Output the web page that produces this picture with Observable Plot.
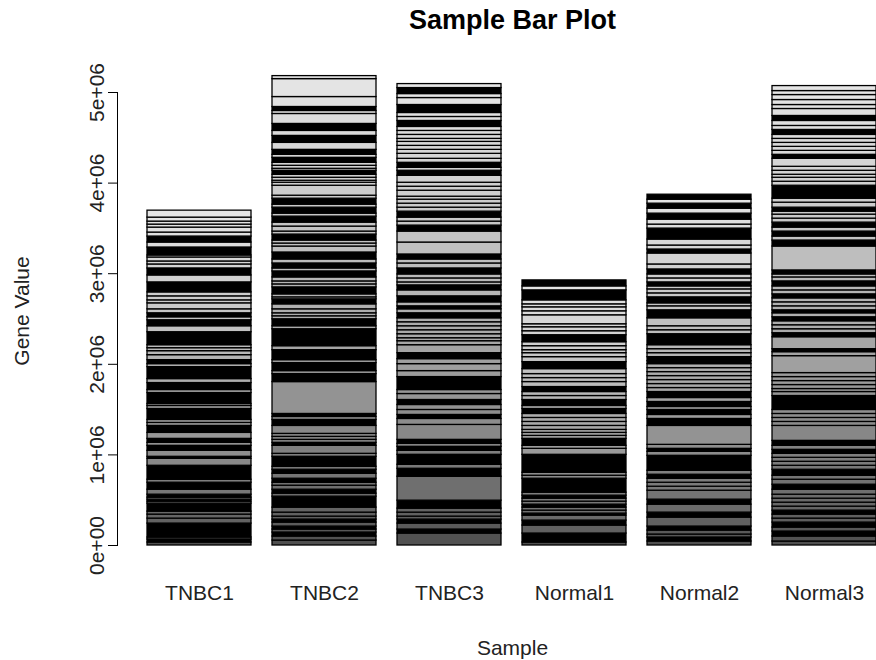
<!DOCTYPE html>
<html>
<head>
<meta charset="utf-8">
<script src="https://cdn.jsdelivr.net/npm/d3@7"></script>
<script src="https://cdn.jsdelivr.net/npm/@observablehq/plot@0.6"></script>
<style>
  html, body { margin: 0; padding: 0; background: #fff; overflow: hidden; }
  svg { overflow: hidden; }
</style>
</head>
<body>
<div id="chart"></div>
<script>
// Sample names (x categories)
const samples = ["TNBC1", "TNBC2", "TNBC3", "Normal1", "Normal2", "Normal3"];

// Stacked gene values per sample, bottom to top, in thousands.
// A plain number is one gene; [value, n] is a run of n tiny genes read as one dense block.
const tnbc1 = [33, [33,4], 22, [154,20], 55, 44, 33, [88,10], 22, [22,3], 22, [33,4], 55, [77,9], 33, [154,18], 77, [22,3], 66, [55,6], 33, [44,5], 66, [77,9], 33, 33, [121,14], 33, 22, [121,13], 33, [77,8], 44, [132,15],
  33, [44,5], 55, 44, 33, 33, [143,16], 66, [66,7], 33, [44,5], 44, 66, 33, 44, 44, [110,12], 77, [77,8], 44, 33, 44, 22, [88,10], 55, [66,7], 44, 55, 33, 33, 44, 77];
const tnbc2 = [55, 44, [44,5], 33, [33,4], 44, [33,4], 33, 44, 55, [121,14], 33, [44,5], 44, 33, [44,5], 55, [44,5], 33, [110,12], 33, 88, [33,4], 33, 33, 33, 88, [66,7], 33, [33,4],
  352,
  [88,10], 33, [88,10], 33, [110,12], 44, [187,20], 33, [77,8], 33, 33, 44, 55,
  [55,6], 22, 33, [77,8], 33, 33, 44, [66,7], 33, [55,6], 44, [77,8], 66, 33, 33, [66,7], 33, 55, 44, [66,7], 33, [66,7], 33, [66,7], 33, 110, 33, 22, 33, 33, [44,5], 22, 33, 33, [55,6], 33, [55,6], 77, [77,8], 55, [77,8], 110, 33, [44,5], 110, 198, 33];
const tnbc3 = [132, [44,5], 66, [44,5], 33, 44, 44, [88,10], 264, [88,10], 44, [110,12], 44, [44,5], 33, [44,5], 165, 66, [44,5], 55, 55, [55,6], 66, 44, [143,16], 66, 77, 55, [66,7], 88, 44, 33, 44, 44, 44, 44, 44, [55,6], 44, [33,4],
  44, [66,7], 66, [55,6], 33, 44, 44, [66,7], 55, 44, [55,6], 132, 121, [66,7], 44, 44, [66,7], 44, 44, 44, 33, 66, 44, 44, 77, [55,6], 33, [55,6], 44, 55, 44, 44, 44, 33, 44, 44, 44, [66,7], 44, 44, [88,10], 77, 44, [66,7], 44];
const normal1 = [33, [99,11], 88, [55,6], 55, [22,3], 33, 33, [33,4], 33, 33, [33,4], 33, [154,16], 33, 33, [198,20], 66, 33, [77,8], 33, 33, 33, 44, 44, 44, 44, [55,6], 33,
  [66,7], 44, 44, [55,6], 55, 44, 44, 55, [77,8], 55, 44, 33, 44, 44, [77,8], 44, 44, 33, 99, 44, 44, 33, 44, [110,12], 44, [66,7]];
const normal2 = [44, [44,5], 33, 44, [44,5], 99, [55,6], 88, [55,6], 99, 44, 44, 44, [44,5], 44, [165,18], 44, [33,4], 44, 209, [77,8], 44, [55,6], 33, [55,6], 44, [66,7], 44, 44, 44, 44, 44, 44, 44, [33,4],
  [44,5], 44, 44, 44, [121,13], 44, 44, 88, [88,10], 44, 33, [66,7], 44, 44, 33, [44,5], 44, 44, [55,6], 55, 121, [44,5], 44, 66, [121,13], 44, 55, [66,7], 55, [55,6], 44, [55,6]];
const normal3 = [44, 55, [55,6], 44, [55,6], 44, 44, [44,5], 44, 44, 44, 44, 55, [55,6], 55, 44, [66,7], 44, 44, 44, 44, [44,5], 44, [55,6], 165, 44, 44, 44, 44, [154,16], 44, 33, 44, 44, 44, 44, 187, 44, [33,4], 132, [44,5], 44, 44, 44, [44,5], 44, [33,4], 44,
  44, 44, [44,5], 44, 44, [55,6], 44, 33, [44,5], 264, [66,7], 44, [55,6], 44, [55,6], 44, 44, 33, [44,5], 55, 44, [143,15], 44, 44, 33, 44, 44, 88, [44,5], 44, 44, 44, 44, 44, [55,6], 44, 55, [55,6], 77, 44, 55, 55, 44, 55];

// Axis ticks and labels
const yTicks = [0, 1e6, 2e6, 3e6, 4e6, 5e6];
const yTickLabels = ["0e+00", "1e+06", "2e+06", "3e+06", "4e+06", "5e+06"];
const titleText = "Sample Bar Plot";
const xTitle = "Sample";
const yTitle = "Gene Value";

// Build the long table for the stacked bars
const series = [tnbc1, tnbc2, tnbc3, normal1, normal2, normal3];
const table = [];
samples.forEach((s, i) => {
  const segs = series[i].map(e => Array.isArray(e)
    ? {value: e[0] * 1000, genes: e[1]}
    : {value: e * 1000, genes: 1});
  const total = d3.sum(segs, d => d.value);
  let cum = 0;
  segs.forEach(d => {
    table.push({sample: s, value: d.value, genes: d.genes, frac: (cum + d.value / 2) / total});
    cum += d.value;
  });
});

// R's gray.colors(): gray 0.3 -> 0.9 with gamma 2.2
const grayRamp = d3.interpolateRgb.gamma(2.2)("rgb(77,77,77)", "rgb(230,230,230)");

const font = "'Liberation Sans', Arial, Helvetica, sans-serif";

const chart = Plot.plot({
  width: 876,
  height: 660,
  marginLeft: 117,
  marginRight: 0,
  marginTop: 92,
  marginBottom: 115,
  style: {fontFamily: font, fontSize: "21px", background: "white", overflow: "hidden", color: "black"},
  x: {type: "band", domain: samples, range: [146, 877.5], paddingInner: 1 / 6, paddingOuter: 0, axis: null},
  y: {domain: [0, 5e6], axis: null},
  marks: [
    Plot.barY(table, {
      x: "sample",
      y: "value",
      fill: d => d.genes > 1 ? "black" : grayRamp(d.frac),
      stroke: "black",
      strokeWidth: 1.3
    }),
    Plot.frame({anchor: "left", stroke: "black"}),
    Plot.axisY({ticks: yTicks, tickSize: 9, tickFormat: () => "", label: null, stroke: "black"}),
    Plot.text(yTicks, {
      y: d => d,
      text: (d, i) => yTickLabels[i],
      frameAnchor: "left",
      dx: -20,
      rotate: -90,
      textAnchor: "middle",
      lineAnchor: "middle",
      fill: "#222"
    }),
    Plot.axisX({tickSize: 0, tickPadding: 40, label: null, fill: "#222"}),
    Plot.text([titleText], {text: d => d, frameAnchor: "top", dx: 15.5, dy: -72, textAnchor: "middle", lineAnchor: "middle", fontWeight: "bold", fontSize: 27, fill: "black"}),
    Plot.text([xTitle], {text: d => d, frameAnchor: "bottom", dx: 15.5, dy: 103, textAnchor: "middle", lineAnchor: "middle", fill: "#222"}),
    Plot.text([yTitle], {text: d => d, frameAnchor: "left", dx: -95, dy: -8, rotate: -90, textAnchor: "middle", lineAnchor: "middle", fill: "#222"})
  ]
});

document.getElementById("chart").appendChild(chart);
</script>
</body>
</html>
